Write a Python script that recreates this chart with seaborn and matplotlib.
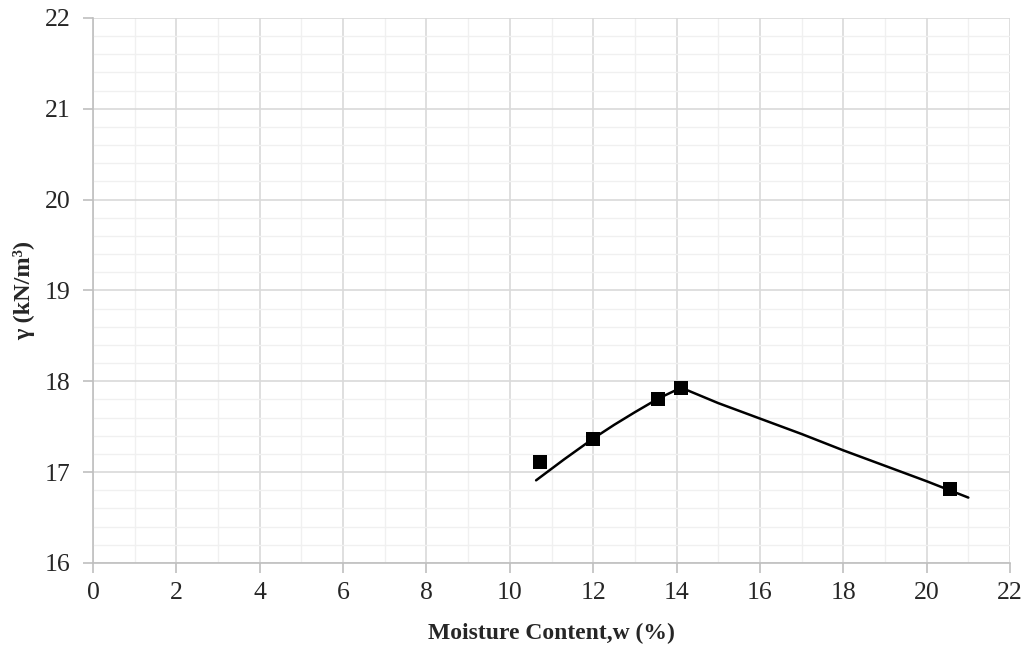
import numpy as np
import pandas as pd
import matplotlib as mpl
import matplotlib.pyplot as plt
from matplotlib.ticker import MultipleLocator
import seaborn as sns

# measured points
moisture = [10.72, 12.0, 13.56, 14.11, 20.56]
unit_weight = [17.11, 17.37, 17.81, 17.93, 16.81]

# fitted curve
curve_w = [10.63, 11.3, 12.0, 12.5, 13.0, 13.56, 14.11, 15.0, 16.0, 17.0, 18.0, 19.0, 20.0, 21.0]
curve_gamma = [16.91, 17.14, 17.37, 17.52, 17.66, 17.81, 17.93, 17.76, 17.59, 17.42, 17.24, 17.07, 16.90, 16.72]

sns.set_style('white')
plt.rcParams['font.family'] = ['Liberation Serif', 'DejaVu Serif']

fig = plt.figure(figsize=(10.28, 6.51), dpi=100)
ax = fig.add_axes([0.0905, 0.1352, 0.892, 0.8372])

df_pts = pd.DataFrame({'w': moisture, 'gamma': unit_weight})
df_curve = pd.DataFrame({'w': curve_w, 'gamma': curve_gamma})

sns.lineplot(data=df_curve, x='w', y='gamma', sort=False, estimator=None,
             color='black', linewidth=1.8, ax=ax, zorder=3)
sns.scatterplot(data=df_pts, x='w', y='gamma', marker='s', s=105,
                color='black', edgecolor='black', linewidth=0, ax=ax, zorder=4)

ax.set_xlim(0, 22)
ax.set_ylim(16, 22)
ax.xaxis.set_major_locator(MultipleLocator(2))
ax.xaxis.set_minor_locator(MultipleLocator(1))
ax.yaxis.set_major_locator(MultipleLocator(1))
ax.yaxis.set_minor_locator(MultipleLocator(0.2))

ax.grid(which='major', color='#d9d9d9', linewidth=1.2)
ax.grid(which='minor', color='#f0f0f0', linewidth=1.0)
ax.set_axisbelow(True)

for side in ['top', 'right']:
    ax.spines[side].set_visible(False)
for side in ['left', 'bottom']:
    ax.spines[side].set_color('#bfbfbf')
    ax.spines[side].set_linewidth(1.2)

ax.tick_params(which='major', direction='out', length=7, width=1.2,
               color='#bfbfbf', labelsize=18.5, left=True, bottom=True)
ax.tick_params(axis='x', which='major', pad=7)
ax.tick_params(axis='y', which='major', pad=9)
ax.tick_params(which='minor', length=0)

ax.set_xlabel('Moisture Content,w (%)', fontsize=17, fontweight='bold', labelpad=13)
ax.set_ylabel('γ (kN/m³)', fontsize=17.5, fontweight='bold', labelpad=7)

fig.savefig('out.png', dpi=100)
